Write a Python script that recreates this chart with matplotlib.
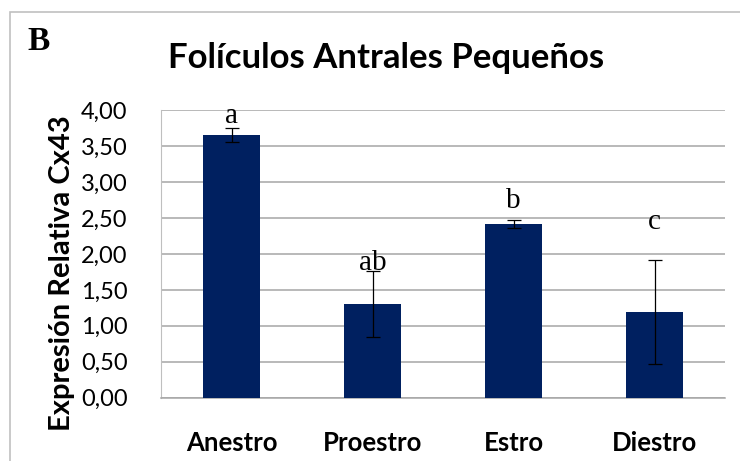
import matplotlib
matplotlib.use('Agg')
import matplotlib.pyplot as plt
from matplotlib.patches import Rectangle

plt.rcParams['font.family'] = ['Lato', 'DejaVu Sans']

# Expresión relativa de Cx43 por fase del ciclo
fases = ['Anestro', 'Proestro', 'Estro', 'Diestro']
expresion = [3.66, 1.30, 2.42, 1.19]
error = [0.10, 0.46, 0.06, 0.72]
letras = ['a', 'ab', 'b', 'c']
ticks_y = [0.0, 0.5, 1.0, 1.5, 2.0, 2.5, 3.0, 3.5, 4.0]
etiquetas_y = ['0,00', '0,50', '1,00', '1,50', '2,00', '2,50', '3,00', '3,50', '4,00']

fig = plt.figure(figsize=(7.4, 4.61), dpi=100)
fig.patch.set_facecolor('white')

# marco exterior gris
fig.patches.append(Rectangle((10 / 740, -0.05), 1.0, 1 - 12 / 461 + 0.05,
                             transform=fig.transFigure, fill=False,
                             edgecolor='#c0c0c0', linewidth=1.2))

ax = fig.add_axes([161 / 740, 63.5 / 461, 564 / 740, 287 / 461])

x = range(len(fases))
ax.bar(x, expresion, width=0.41, color='#002060', zorder=3)
ax.errorbar(x, expresion, yerr=error, fmt='none', ecolor='black',
            elinewidth=0.9, capsize=5, capthick=0.9, zorder=4)

# letras de significancia sobre cada barra
offsets = [-0.02, -0.06, 0.08, 0.36]
for i, (v, e, l) in enumerate(zip(expresion, error, letras)):
    ax.text(i, v + e + offsets[i], l, ha='center', va='bottom',
            fontsize=21, family='Liberation Serif', zorder=5)

ax.set_xlim(-0.5, 3.5)
ax.set_ylim(0, 4)
ax.set_yticks(ticks_y)
ax.set_yticklabels(etiquetas_y, fontsize=17)
ax.set_xticks(list(x))
ax.set_xticklabels(fases, fontsize=18.5, fontweight='bold')
ax.tick_params(axis='both', length=0)
ax.tick_params(axis='y', pad=24)
ax.tick_params(axis='x', pad=24)

ax.yaxis.grid(True, color='#a6a6a6', linewidth=1.1, zorder=0)
for s in ['top', 'right']:
    ax.spines[s].set_visible(False)
ax.spines['left'].set_color('#bfbfbf')
ax.spines['bottom'].set_color('#a6a6a6')
ax.spines['bottom'].set_linewidth(1.1)

fig.text(62 / 740, 1 - 273 / 461, 'Expresión Relativa Cx43', rotation=90,
         ha='center', va='center', fontsize=21, fontweight='bold')
fig.text(386 / 740, 1 - 58 / 461, 'Folículos Antrales Pequeños',
         ha='center', va='center', fontsize=25, fontweight='bold')
fig.text(39 / 740, 1 - 42 / 461, 'B', ha='center', va='center',
         fontsize=24, fontweight='bold', family='Liberation Serif')

fig.savefig('out.png', dpi=100)
